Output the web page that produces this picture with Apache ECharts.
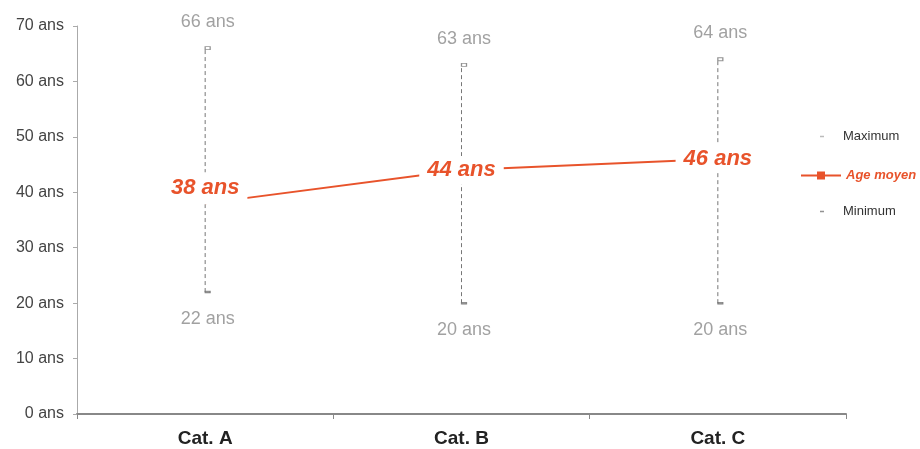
<!DOCTYPE html>
<html>
<head>
<meta charset="utf-8">
<script src="https://cdn.jsdelivr.net/npm/echarts@6/dist/echarts.min.js"></script>
<style>
html,body{margin:0;padding:0;background:#fff;}
#chart{width:920px;height:449px;}
</style>
</head>
<body>
<div id="chart"></div>
<script>
var categories = ['Cat. A', 'Cat. B', 'Cat. C'];
var maxValues = [66, 63, 64];
var avgValues = [38, 44, 46];
var minValues = [22, 20, 20];
var yTicks = [0, 10, 20, 30, 40, 50, 60, 70];

var FONT = '"Liberation Sans", Arial, sans-serif';
var RED = '#E8532B';
var GRAY = '#8a8a8a';

var chart = echarts.init(document.getElementById('chart'));

var rangeData = categories.map(function (c, i) { return [i, minValues[i], maxValues[i]]; });

var avgData = avgValues.map(function (v, i) {
  var item = { value: v, symbolSize: 0.01 };
  if (i === 0) {
    item.label = { offset: [0, -15], padding: [0, 8, 10, 8] };
  }
  return item;
});

var option = {
  animation: false,
  backgroundColor: '#fff',
  grid: { left: 77, right: 74, top: 26, bottom: 35, containLabel: false },
  legend: [
    {
      data: [{ name: 'Maximum', icon: 'rect', itemStyle: { color: '#aaa', borderWidth: 0 } }],
      left: 815, top: 125, orient: 'vertical',
      itemWidth: 4, itemHeight: 1.5, selectedMode: false,
      textStyle: { fontFamily: FONT, fontSize: 13, color: '#333', padding: [0, 0, 0, 14] }
    },
    {
      data: [{ name: 'Age moyen' }],
      left: 795, top: 164, orient: 'vertical',
      itemWidth: 40, itemHeight: 10, selectedMode: false,
      textStyle: { fontFamily: FONT, fontSize: 13, fontWeight: 'bold', fontStyle: 'italic', color: RED }
    },
    {
      data: [{ name: 'Minimum', icon: 'rect', itemStyle: { color: '#777', borderWidth: 0 } }],
      left: 815, top: 200, orient: 'vertical',
      itemWidth: 4, itemHeight: 1.5, selectedMode: false,
      textStyle: { fontFamily: FONT, fontSize: 13, color: '#333', padding: [0, 0, 0, 14] }
    }
  ],
  xAxis: {
    type: 'category',
    data: categories,
    boundaryGap: true,
    axisLine: { lineStyle: { color: '#888', width: 2 } },
    axisTick: { show: true, length: 5, lineStyle: { color: '#888' } },
    axisLabel: { fontFamily: FONT, fontSize: 19, fontWeight: 'bold', color: '#222', margin: 15 }
  },
  yAxis: {
    type: 'value',
    min: yTicks[0],
    max: yTicks[yTicks.length - 1],
    interval: 10,
    axisLine: { show: true, lineStyle: { color: '#aaa', width: 1 } },
    axisTick: { show: true, length: 4, lineStyle: { color: '#aaa' } },
    splitLine: { show: false },
    axisLabel: {
      fontFamily: FONT, fontSize: 16, color: '#444', margin: 13,
      formatter: function (v) { return v + ' ans'; }
    }
  },
  series: [
    {
      name: 'range',
      type: 'custom',
      z: 2,
      data: rangeData,
      renderItem: function (params, api) {
        var lo = api.coord([api.value(0), api.value(1)]);
        var hi = api.coord([api.value(0), api.value(2)]);
        return {
          type: 'line',
          shape: { x1: lo[0], y1: lo[1], x2: hi[0], y2: hi[1] },
          style: { stroke: '#777', lineWidth: 1, lineDash: [4, 3] }
        };
      }
    },
    {
      name: 'Maximum',
      type: 'scatter',
      z: 3,
      data: maxValues,
      symbol: 'rect',
      symbolSize: [5, 3],
      symbolOffset: [2.5, 0],
      itemStyle: { color: '#fff', borderColor: '#777', borderWidth: 1 },
      label: {
        show: true, position: 'top', distance: 15,
        fontFamily: FONT, fontSize: 18, color: GRAY,
        formatter: function (p) { return p.value + ' ans'; }
      }
    },
    {
      name: 'Minimum',
      type: 'scatter',
      z: 3,
      data: minValues,
      symbol: 'rect',
      symbolSize: [5, 2],
      symbolOffset: [2.5, 0],
      itemStyle: { color: '#777', borderColor: '#777', borderWidth: 0.5 },
      label: {
        show: true, position: 'bottom', distance: 17,
        fontFamily: FONT, fontSize: 18, color: GRAY,
        formatter: function (p) { return p.value + ' ans'; }
      }
    },
    {
      name: 'Age moyen',
      type: 'line',
      z: 5,
      data: avgData,
      symbol: 'rect',
      symbolSize: 7,
      showSymbol: true,
      lineStyle: { color: RED, width: 2 },
      itemStyle: { color: RED },
      label: {
        show: true, position: 'inside',
        fontFamily: FONT, fontSize: 22, fontWeight: 'bold', fontStyle: 'italic',
        color: RED, backgroundColor: '#fff', padding: [3, 8, 3, 8],
        formatter: function (p) { return p.value + ' ans'; }
      }
    }
  ]
};

chart.setOption(option);
</script>
</body>
</html>
